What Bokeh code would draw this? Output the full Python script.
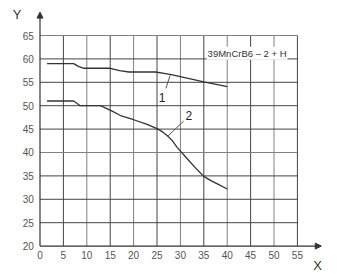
from bokeh.plotting import figure
from bokeh.models import Range1d, Arrow, NormalHead, Label
from bokeh.core.properties import value
from bokeh.embed import file_html
from bokeh.resources import INLINE

# ---- data ----
x_ticks = [0, 5, 10, 15, 20, 25, 30, 35, 40, 45, 50, 55]
y_ticks = [20, 25, 30, 35, 40, 45, 50, 55, 60, 65]

curve1_x = [1.5, 7.2, 8.2, 9.4, 15.0, 17.0, 19.0, 24.7, 26.5, 28.3, 35.0, 40.0]
curve1_y = [59.0, 59.0, 58.4, 58.0, 58.0, 57.5, 57.2, 57.2, 56.9, 56.6, 55.1, 54.1]

curve2_x = [1.5, 7.2, 8.6, 12.9, 15.1, 17.2, 20.0, 22.9, 25.0, 26.2, 27.2, 28.3, 29.3, 31.5, 33.6, 35.0, 36.5, 37.9, 40.0]
curve2_y = [51.0, 51.0, 50.0, 50.0, 49.0, 47.9, 47.0, 46.0, 45.1, 44.4, 43.6, 42.5, 41.1, 38.6, 36.3, 34.9, 34.0, 33.3, 32.2]

curve_labels = ["1", "2"]
label_x = [26.1, 31.8]
label_y = [51.8, 47.9]
leader_x0 = [26.9, 30.7]
leader_y0 = [53.7, 46.7]
leader_x1 = [27.8, 27.2]
leader_y1 = [56.5, 43.4]

title_text = "39MnCrB6 \u2013 2 + H"

# ---- figure ----
p = figure(width=344, height=274, output_backend="svg", toolbar_location=None,
           x_range=Range1d(-8.44, 65.06), y_range=Range1d(13.93, 72.48),
           x_axis_location=None, y_axis_location=None, min_border=0)
p.grid.visible = False
p.outline_line_color = None
p.background_fill_color = "white"
p.border_fill_color = "white"

dark = "#444444"
light = "#808080"
xg = x_ticks[1:]
xg_col = [dark if (t // 5) % 2 == 1 else light for t in xg]
p.segment(x0=xg, y0=[y_ticks[0]] * len(xg), x1=xg, y1=[y_ticks[-1]] * len(xg),
          line_color=xg_col, line_width=1)
yg = y_ticks[1:]
yg_col = [light if t in (40, 65) else dark for t in yg]
p.segment(x0=[x_ticks[0]] * len(yg), y0=yg, x1=[x_ticks[-1]] * len(yg), y1=yg,
          line_color=yg_col, line_width=1)

# axes with arrows
head = lambda: NormalHead(size=6, fill_color="#333333", line_color="#333333")
p.add_layout(Arrow(end=head(), x_start=x_ticks[0], y_start=y_ticks[0], x_end=60.1, y_end=y_ticks[0],
                   line_color="#333333", line_width=1.2))
p.add_layout(Arrow(end=head(), x_start=x_ticks[0], y_start=y_ticks[0], x_end=x_ticks[0], y_end=70.0,
                   line_color="#333333", line_width=1.2))

# tick labels
p.text(x=[-1.3] * len(y_ticks), y=y_ticks, text=[str(t) for t in y_ticks],
       text_align="right", text_baseline="middle", text_font=value("Liberation Sans"),
       text_font_size="10px", text_color="#555555")
p.text(x=x_ticks, y=[18.0] * len(x_ticks), text=[str(t) for t in x_ticks],
       text_align="center", text_baseline="middle", text_font=value("Liberation Sans"),
       text_font_size="10px", text_color="#555555")

p.text(x=[-4.9], y=[69.5], text=["Y"], text_align="center", text_baseline="middle",
       text_font=value("Liberation Sans"), text_font_size="13px", text_color="#333333")
p.text(x=[59.3], y=[15.9], text=["X"], text_align="center", text_baseline="middle",
       text_font=value("Liberation Sans"), text_font_size="13px", text_color="#333333")

# curves
p.line(curve1_x, curve1_y, line_color="#333333", line_width=1.3)
p.line(curve2_x, curve2_y, line_color="#333333", line_width=1.3)

# curve labels and leaders
p.segment(x0=leader_x0, y0=leader_y0, x1=leader_x1, y1=leader_y1, line_color="#555555", line_width=1)
p.text(x=label_x, y=label_y, text=curve_labels, text_align="center", text_baseline="middle",
       text_font=value("Liberation Sans"), text_font_size="12px", text_color="#222222")

p.add_layout(Label(x=35.6, y=59.8, text=title_text, text_align="left", text_baseline="bottom",
                   text_font="Liberation Sans", text_font_size="9.5px", text_color="#333333",
                   background_fill_color="white", padding=1))

open("out.html", "w").write(file_html(p, INLINE))
